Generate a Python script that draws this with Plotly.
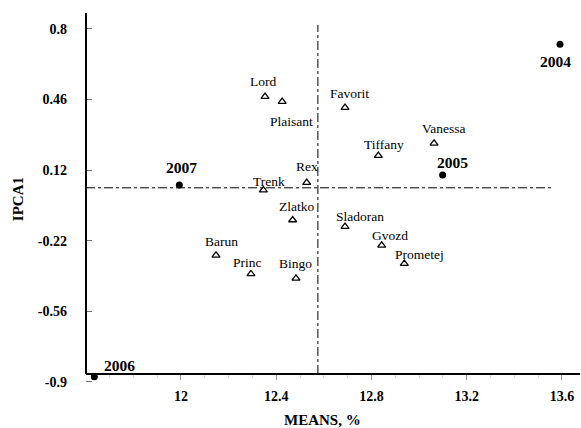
import plotly.graph_objects as go

# ---- data ----
genotypes = ["Lord", "Plaisant", "Trenk", "Rex", "Favorit", "Tiffany", "Vanessa",
             "Zlatko", "Barun", "Princ", "Bingo", "Sladoran", "Gvozd", "Prometej"]
geno_means = [12.353, 12.425, 12.346, 12.528, 12.689, 12.829, 13.063,
              12.469, 12.147, 12.294, 12.483, 12.689, 12.843, 12.938]
geno_ipca1 = [0.474, 0.450, 0.024, 0.060, 0.421, 0.190, 0.249,
              -0.120, -0.290, -0.380, -0.401, -0.152, -0.242, -0.330]

years = ["2004", "2005", "2007", "2006"]
year_means = [13.592, 13.099, 11.993, 11.636]
year_ipca1 = [0.726, 0.097, 0.049, -0.875]

grand_mean = 12.575
ipca_ref = 0.035
x_axis_level = -0.862

x_ticks = [12, 12.4, 12.8, 13.2, 13.6]
y_ticks = [0.8, 0.46, 0.12, -0.22, -0.56, -0.9]

# ---- styling / layout ----
XR = [11.601, 13.676]
YR = [-0.91, 0.877]
FONT = "Liberation Serif"
x_axis_pos = (x_axis_level - YR[0]) / (YR[1] - YR[0])

geno_offsets = {
    "Lord": (-2, 15), "Plaisant": (9, -20), "Trenk": (6, 9), "Rex": (0, 16),
    "Favorit": (4, 14), "Tiffany": (6, 11), "Vanessa": (10, 15), "Zlatko": (4, 13),
    "Barun": (6, 14), "Princ": (-3, 11), "Bingo": (0, 15), "Sladoran": (15, 10),
    "Gvozd": (8, 10), "Prometej": (15, 9),
}
year_offsets = {"2004": (-5, -17), "2005": (10, 12), "2007": (2, 17), "2006": (25, 11)}

fig = go.Figure()
fig.add_trace(go.Scatter(
    x=geno_means, y=geno_ipca1, mode="markers",
    marker=dict(symbol="triangle-up-open", size=7, color="black", line=dict(width=1.3, color="black")),
    cliponaxis=False, showlegend=False))
fig.add_trace(go.Scatter(
    x=year_means, y=year_ipca1, mode="markers",
    marker=dict(symbol="circle", size=7, color="black"),
    cliponaxis=False, showlegend=False))

annotations = []
for n, xv, yv in zip(genotypes, geno_means, geno_ipca1):
    dx, dy = geno_offsets[n]
    annotations.append(dict(x=xv, y=yv, text=n, showarrow=False, xshift=dx, yshift=dy,
                            xanchor="center", yanchor="middle",
                            font=dict(family=FONT, size=13.5, color="black")))
for n, xv, yv in zip(years, year_means, year_ipca1):
    dx, dy = year_offsets[n]
    annotations.append(dict(x=xv, y=yv, text="<b>%s</b>" % n, showarrow=False, xshift=dx, yshift=dy,
                            xanchor="center", yanchor="middle",
                            font=dict(family=FONT, size=15.5, color="black")))

# axis titles
annotations.append(dict(xref="paper", x=0.478, yref="paper", y=-0.097, text="<b>MEANS, %</b>",
                        showarrow=False, xanchor="center", yanchor="middle",
                        font=dict(family=FONT, size=15, color="black")))
annotations.append(dict(xref="paper", x=-0.137, yref="paper", y=0.499, text="<b>IPCA1</b>",
                        showarrow=False, textangle=-90, xanchor="center", yanchor="middle",
                        font=dict(family=FONT, size=15, color="black")))

shapes = [
    # y axis line (stops at the x axis)
    dict(type="line", xref="paper", yref="paper", x0=0, x1=0, y0=x_axis_pos, y1=1,
         line=dict(color="black", width=2)),
    # x axis line
    dict(type="line", xref="paper", yref="paper", x0=0, x1=1, y0=x_axis_pos, y1=x_axis_pos,
         line=dict(color="black", width=2), layer="above"),
    dict(type="line", xref="x", yref="y", x0=XR[0], x1=13.56, y0=ipca_ref, y1=ipca_ref,
         line=dict(color="black", width=1, dash="dashdot")),
    dict(type="line", xref="x", yref="y", x0=grand_mean, x1=grand_mean, y0=x_axis_level, y1=0.82,
         line=dict(color="black", width=1, dash="dashdot")),
]

fig.update_layout(
    width=581, height=428,
    margin=dict(l=86, r=1, t=13, b=44),
    paper_bgcolor="white", plot_bgcolor="white",
    annotations=annotations, shapes=shapes,
    font=dict(family=FONT, color="black"),
    xaxis=dict(range=XR, showgrid=False, zeroline=False, showline=True, linecolor="black", linewidth=2,
               anchor="free", position=x_axis_pos,
               tickvals=x_ticks, ticktext=["<b>%g</b>" % v for v in x_ticks],
               ticks="outside", ticklen=5, tickcolor="#999", tickwidth=1,
               ticklabelstandoff=4, tickfont=dict(family=FONT, size=14, color="black"),
               minor=dict(dtick=0.1, ticks="outside", ticklen=3, tickcolor="#ddd", showgrid=False)),
    yaxis=dict(range=YR, showgrid=False, zeroline=False, showline=False,
               tickvals=y_ticks, ticktext=["<b>%g</b>" % v for v in y_ticks],
               ticks="inside", ticklen=6, tickcolor="#777", tickwidth=1,
               ticklabelstandoff=18, tickfont=dict(family=FONT, size=14, color="black")),
)

fig.write_html("out.html", config={"displayModeBar": False},
               post_script="document.body.style.margin='0';")
